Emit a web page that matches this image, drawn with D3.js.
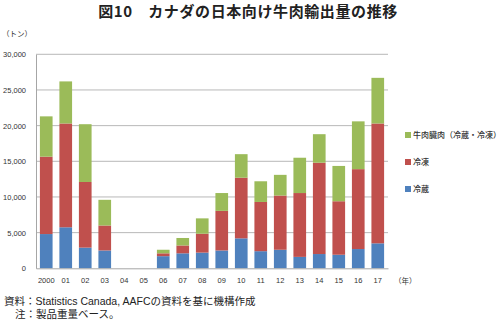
<!DOCTYPE html>
<html>
<head>
<meta charset="utf-8">
<script src="https://cdn.jsdelivr.net/npm/d3@7"></script>
<style>
  body { margin: 0; background: #fff; }
  svg { display: block; font-family: "Noto Sans CJK JP", "Noto Sans", sans-serif; }
</style>
</head>
<body>
<svg id="chart" width="500" height="323"></svg>
<script>
// Years shown on the x axis
const years = ["2000","01","02","03","04","05","06","07","08","09","10","11","12","13","14","15","16","17"];
// Chilled beef (tonnes)
const chilled = [4800, 5750, 2900, 2500, 0, 0, 1700, 2100, 2200, 2500, 4200, 2400, 2600, 1600, 2000, 1900, 2700, 3500];
// Frozen beef (tonnes)
const frozen = [10850, 14550, 9200, 3500, 0, 0, 400, 1100, 2650, 5550, 8500, 6900, 7600, 8950, 12800, 7500, 11200, 16800];
// Beef offal, chilled & frozen (tonnes)
const offal = [5650, 5900, 8100, 3600, 0, 0, 500, 1050, 2150, 2500, 3300, 2900, 2900, 4950, 4000, 4950, 6700, 6400];
const yTicks = [0, 5000, 10000, 15000, 20000, 25000, 30000];

const seriesKeys = ["chilled", "frozen", "offal"];
const seriesNames = { chilled: "冷蔵", frozen: "冷凍", offal: "牛肉臓肉（冷蔵・冷凍）" };
const colors = { chilled: "#4f81bd", frozen: "#c0504d", offal: "#9bbb59" };

const rows = years.map((y, i) => ({ year: y, chilled: chilled[i], frozen: frozen[i], offal: offal[i] }));
const stacked = d3.stack().keys(seriesKeys)(rows);

const svg = d3.select("#chart");
const m = { left: 36, right: 388, top: 54.3, bottom: 268.3 };

const x = d3.scaleBand().domain(years).range([m.left, m.right]).paddingInner(0.35).paddingOuter(0.2);
const y = d3.scaleLinear().domain([0, 30000]).range([m.bottom, m.top]);

// Title
svg.append("text").attr("x", 248).attr("y", 17).attr("text-anchor", "middle")
  .attr("font-size", 15).attr("font-weight", "bold").attr("fill", "#222")
  .attr("letter-spacing", 0.6)
  .text("図10　カナダの日本向け牛肉輸出量の推移");

// Unit label
svg.append("text").attr("x", 2).attr("y", 37).attr("font-size", 7.5).attr("fill", "#333").text("（トン）");

// Gridlines
svg.append("g").selectAll("line").data(yTicks.filter(t => t > 0)).join("line")
  .attr("x1", m.left).attr("x2", m.right)
  .attr("y1", d => y(d)).attr("y2", d => y(d))
  .attr("stroke", "#a6a6a6").attr("stroke-width", 0.8);

// Y axis
const yAxis = svg.append("g").attr("transform", `translate(${m.left},0)`)
  .call(d3.axisLeft(y).tickValues(yTicks).tickSize(0).tickPadding(10).tickFormat(d3.format(",")));
yAxis.select(".domain").attr("stroke", "#a6a6a6");
yAxis.selectAll("text").attr("font-size", 7.5).attr("fill", "#333")
  .attr("font-family", "Liberation Sans, Arial, sans-serif");

// Bars
svg.append("g").selectAll("g").data(stacked).join("g")
  .attr("fill", d => colors[d.key])
  .selectAll("rect").data(d => d).join("rect")
  .attr("x", d => x(d.data.year))
  .attr("width", x.bandwidth())
  .attr("y", d => y(d[1]))
  .attr("height", d => y(d[0]) - y(d[1]));

// X axis
const xAxis = svg.append("g").attr("transform", `translate(0,${m.bottom})`)
  .call(d3.axisBottom(x).tickSize(0).tickPadding(9));
xAxis.select(".domain").attr("stroke", "#a6a6a6");
xAxis.selectAll("text").attr("font-size", 7.5).attr("fill", "#333")
  .attr("font-family", "Liberation Sans, Arial, sans-serif");

svg.append("text").attr("x", 394).attr("y", 284).attr("font-size", 7.5).attr("fill", "#333").text("（年）");

// Legend
const legendOrder = ["offal", "frozen", "chilled"];
const lg = svg.append("g").selectAll("g").data(legendOrder).join("g")
  .attr("transform", (d, i) => `translate(405,${135 + i * 27})`);
lg.append("rect").attr("x", 0).attr("y", -3).attr("width", 6).attr("height", 6).attr("fill", d => colors[d]);
lg.append("text").attr("x", 8).attr("y", 3).attr("font-size", 8).attr("font-weight", 500).attr("fill", "#333").text(d => seriesNames[d]);

// Source and note
const noteFont = "Liberation Sans, 'Noto Sans CJK JP', sans-serif";
svg.append("text").attr("x", 4).attr("y", 305).attr("font-size", 10.5).attr("fill", "#222")
  .attr("font-family", noteFont)
  .text("資料：Statistics Canada, AAFCの資料を基に機構作成");
svg.append("text").attr("x", 15).attr("y", 318).attr("font-size", 10.5).attr("fill", "#222")
  .attr("font-family", noteFont)
  .text("注：製品重量ベース。");
</script>
</body>
</html>
